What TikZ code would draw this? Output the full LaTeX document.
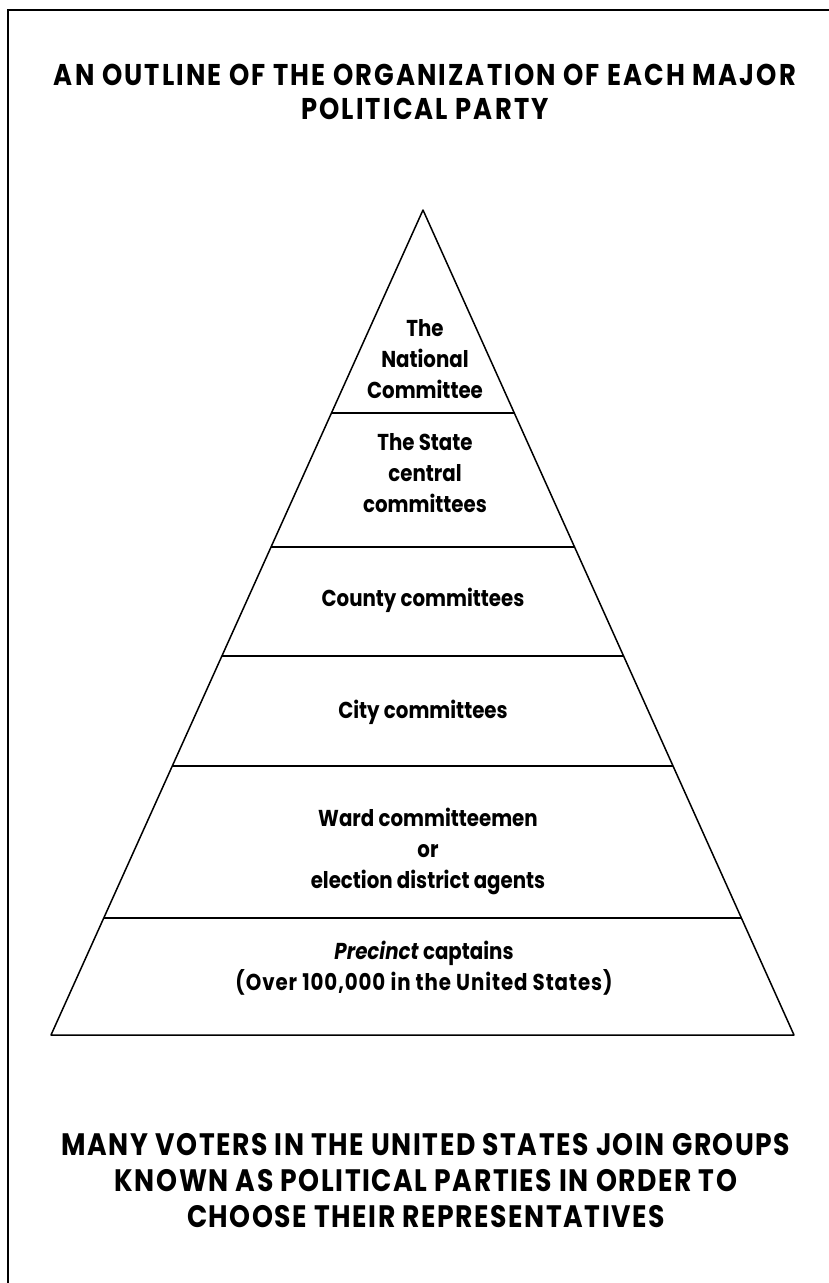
\documentclass[tikz,border=0pt]{standalone}
\usepackage{fontspec}
\setmainfont{Poppins}[FakeStretch=0.86]
\newfontfamily\titlefont{Poppins}[FakeStretch=0.86, LetterSpace=7]
\newfontfamily\capfont{Poppins}[FakeStretch=0.86, LetterSpace=5]
\usetikzlibrary{positioning, calc}

\tikzset{
  level/.style={align=center, font=\fontsize{23}{31}\selectfont\bfseries},
  headline/.style={align=center, font=\titlefont\fontsize{30}{34}\selectfont\bfseries},
  caption/.style={align=center, font=\capfont\fontsize{31}{36}\selectfont\bfseries}
}

\begin{document}
\begin{tikzpicture}[x=1pt,y=-1pt,line width=1.5pt]
      \useasboundingbox (0,0) rectangle (829,1283);
      % Frame (top and left edge only)
      \draw[line width=1.2pt] (8,1283) -- (8,10) -- (829,10);

      % Title
      \node[headline] (title) at (425,92) {AN OUTLINE OF THE ORGANIZATION OF EACH MAJOR\\POLITICAL PARTY};

      % Pyramid outline
      \coordinate (apex) at (423,210);
      \coordinate (bl) at (51,1035);
      \coordinate (br) at (794,1035);
      \draw[line join=round] (apex) -- (bl) -- (br) -- cycle;

      % Dividing lines between the levels
      \foreach \t/\n in {0.246/1,0.4085/2,0.5406/3,0.674/4,0.858/5} {
          \coordinate (l\n) at ($(apex)!\t!(bl)$);
          \coordinate (r\n) at ($(apex)!\t!(br)$);
          \draw (l\n) -- (r\n);
      }

      % Levels
      \node[level] (national) at (425,359) {The\\National\\Committee};
      \node[level] (state) at (425,473) {The State\\central\\committees};
      \node[level] (county) at (423,600) {County committees};
      \node[level] (city) at (423,712) {City committees};
      \node[level] (ward) at (428,851) {Ward committeemen\\or\\election district agents};
      \node[level] (precinct) at (424,968) {\textit{Precinct} captains\\{\addfontfeature{LetterSpace=4}(Over 100,000 in the United States)}};

      % Caption
      \node[caption] (caption) at (426,1181) {MANY VOTERS IN THE UNITED STATES JOIN GROUPS\\KNOWN AS POLITICAL PARTIES IN ORDER TO\\CHOOSE THEIR REPRESENTATIVES};
\end{tikzpicture}
\end{document}
